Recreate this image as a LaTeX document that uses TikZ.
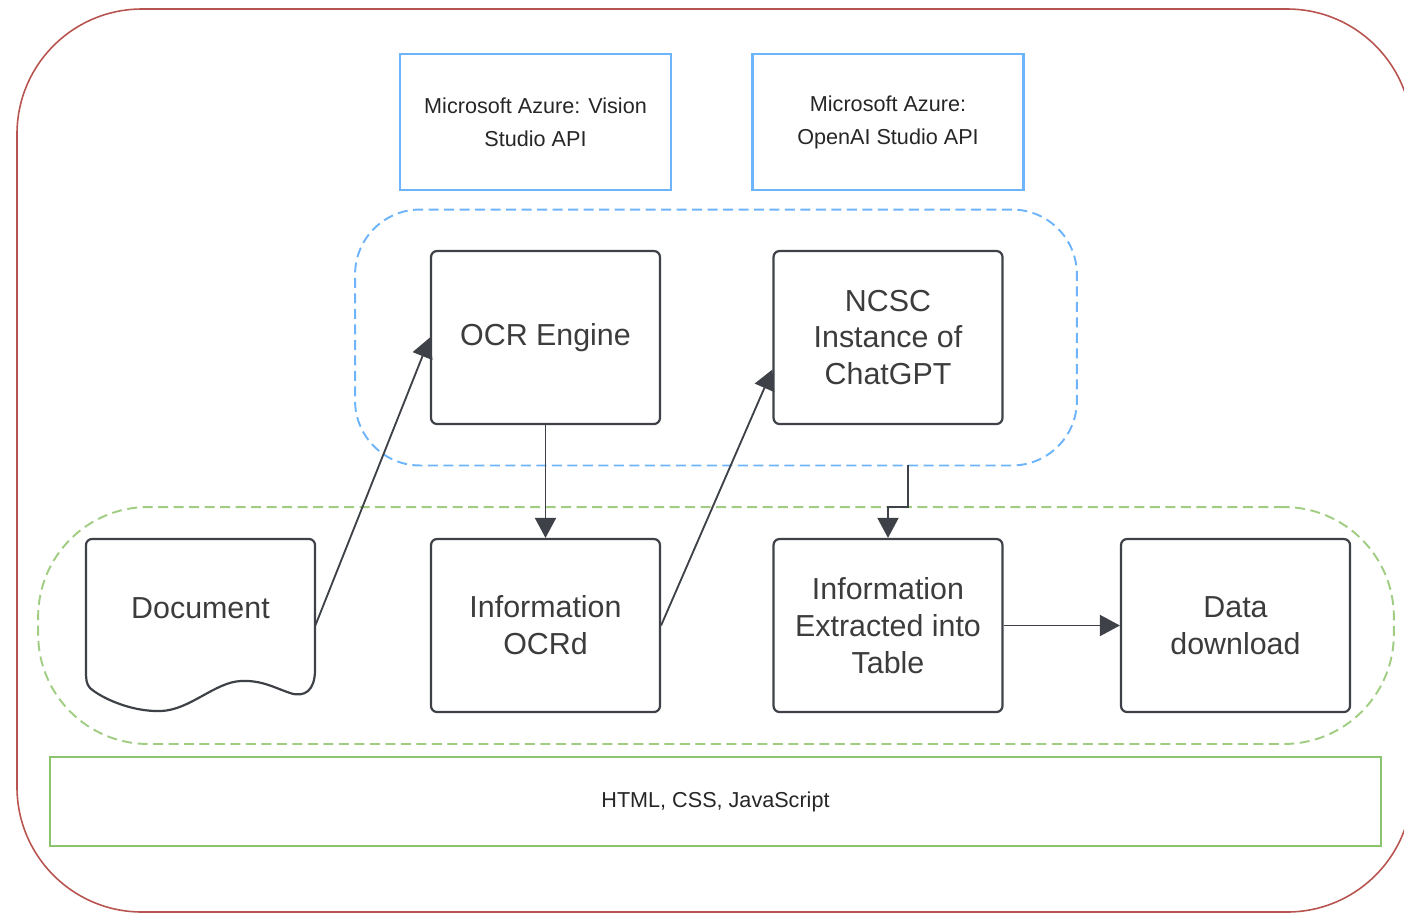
\documentclass[tikz,border=0pt]{standalone}
\usepackage{fontspec}
\setmainfont{Liberation Sans}
\usetikzlibrary{arrows.meta}

\definecolor{frameRed}{RGB}{184,84,80}
\definecolor{apiBlue}{RGB}{110,180,250}
\definecolor{webGreen}{RGB}{160,205,130}
\definecolor{stackGreen}{RGB}{140,195,110}
\definecolor{boxGray}{RGB}{62,66,72}
\definecolor{txtGray}{RGB}{60,60,60}

\providecommand*{\boxW}{}
\providecommand*{\boxH}{}
\providecommand*{\rowTop}{}
\providecommand*{\rowLow}{}
\renewcommand*{\boxW}{4.58cm}
\renewcommand*{\boxH}{3.46cm}
\renewcommand*{\rowTop}{337.5}
\renewcommand*{\rowLow}{625.5}

\begin{document}
\begin{tikzpicture}[x=0.02cm,y=-0.02cm,
  proc/.style={draw=boxGray,line width=1.25pt,rounded corners=0.12cm,
    minimum width=\boxW,minimum height=\boxH,inner sep=0pt,align=center,
    text=txtGray,font=\fontsize{17.3}{21}\selectfont},
  docbox/.style={minimum width=\boxW,minimum height=\boxH,inner sep=0pt},
  api/.style={draw=apiBlue,line width=1.2pt,minimum width=5.42cm,
    minimum height=2.72cm,align=center,text=black!85,
    font=\fontsize{12.3}{18.7}\selectfont},
  group/.style={line width=1.1pt,dash pattern=on 0.2cm off 0.11cm},
  flow/.style={draw=boxGray,line width=1.05pt,
    -{Triangle[length=0.4cm,width=0.42cm]}}]
  \useasboundingbox (0,0) rectangle (1404,914);
%outer frame
  \draw [frameRed,line width=0.9pt,rounded corners=2.5cm] (17,9) rectangle (1412,912);
%groups
  \node [group,draw=apiBlue,rounded corners=1.3cm,minimum width=14.44cm,
    minimum height=5.12cm] (ai) at (716,\rowTop) {};
  \node [group,draw=webGreen,rounded corners=2.2cm,minimum width=27.12cm,
    minimum height=4.74cm] (web) at (716,\rowLow) {};
%api
  \node [api] (vision) at (535.5,122) {Microsoft Azure: Vision\\Studio API};
  \node [api] (openai) at (888,122) {Microsoft Azure:\\OpenAI Studio API};
%top row
  \node [proc] (ocr) at (545.5,\rowTop) {OCR Engine};
  \node [proc] (ncsc) at (888,\rowTop) {NCSC\\Instance of\\ChatGPT};
%low row
  \node [docbox,label={[proc,draw=none,minimum size=0pt,yshift=0.34cm]center:Document}]
    (doc) at (200.5,\rowLow) {};
  \draw [boxGray,line width=1.25pt] (86,670) [rounded corners=0.12cm] -- (86,539)
    -- (315,539) [sharp corners] -- (315,670)
    .. controls (315,690) and (305,698) .. (290,693)
    .. controls (275,688) and (262,680) .. (241,681)
    .. controls (215,682) and (190,710) .. (161,711)
    .. controls (130,712) and (100,697) .. (90,688)
    .. controls (86,684) and (86,678) .. (86,670) -- cycle;
  \node [proc] (ocrd) at (545.5,\rowLow) {Information\\OCRd};
  \node [proc] (ext) at (888,\rowLow) {Information\\Extracted into\\Table};
  \node [proc] (dl) at (1235.5,\rowLow) {Data\\download};
%stack
  \node [draw=stackGreen,line width=1.2pt,minimum width=26.62cm,minimum height=1.78cm,
    text=black!85,font=\fontsize{12.3}{15}\selectfont] (stack) at (715.5,801.5)
    {HTML, CSS, JavaScript};
%arrows
  \draw [flow] (doc.east) -- (ocr.west);
  \draw [flow] (ocr.south) -- (ocrd.north);
  \draw [flow] (ocrd.east) -- ([yshift=-0.64cm]ncsc.west);
  \coordinate (tap) at (908,465);
  \draw [flow] (tap) -- ++(0,42) -| (ext.north);
  \draw [flow] (ext.east) -- (dl.west);
\end{tikzpicture}
\end{document}
